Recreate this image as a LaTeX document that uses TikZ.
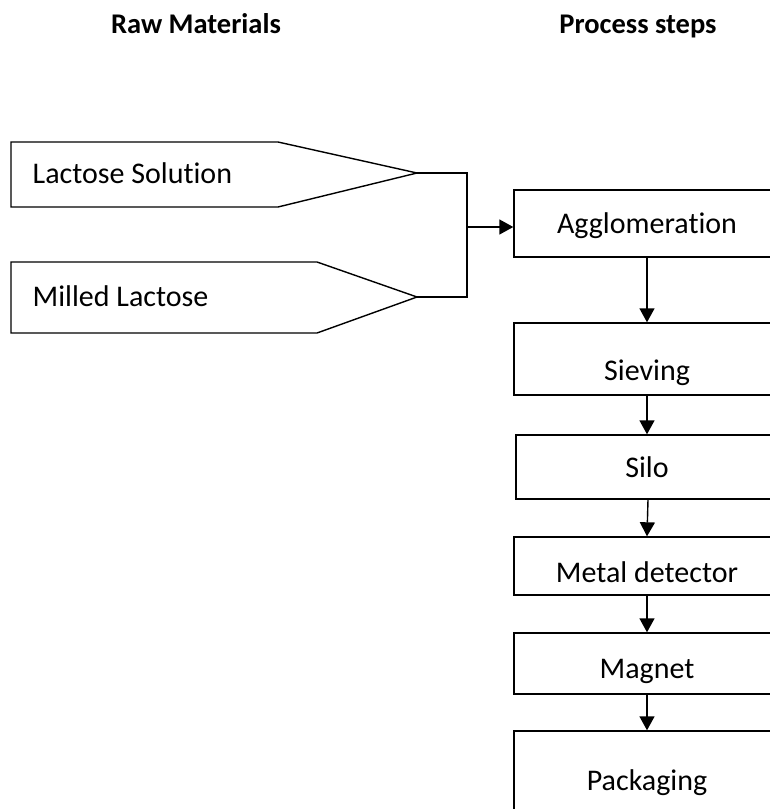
\documentclass[tikz,border=0pt]{standalone}
\usepackage{fontspec}
\setmainfont[Ligatures=NoCommon]{Carlito}
\usetikzlibrary{arrows.meta}
\begin{document}
\begin{tikzpicture}[x=1pt,y=-1pt,
  line width=1.4pt,
  title/.style={font=\fontsize{28.5}{30}\selectfont\bfseries, inner sep=0pt, anchor=base},
  txt/.style={font=\fontsize{30}{32}\selectfont, inner sep=0pt, anchor=base},
  stepbox/.style={draw, line width=1.4pt, minimum width=266pt, inner sep=0pt},
  arr/.style={-{Triangle[length=14pt,width=15pt]}, line width=1.4pt}]
\useasboundingbox (0,0) rectangle (770,809);
\clip (0,0) rectangle (770,809);
% titles
\node[title] (t1) at (196,33) {Raw Materials};
\node[title] (t2) at (638,33) {Process steps};
% raw material pentagons
\coordinate (tipA) at (417,173);
\coordinate (tipB) at (417,297);
\draw[line join=miter] (11,142) -- (278,142) -- (tipA) -- (278,207) -- (11,207) -- cycle;
\draw[line join=miter] (11,262) -- (317,262) -- (tipB) -- (317,333) -- (11,333) -- cycle;
\node[txt, anchor=base west] (lac) at (32,183) {Lactose Solution};
\node[txt, anchor=base west] (mil) at (32,306) {Milled Lactose};
% process boxes
\node[stepbox, minimum height=67pt] (agg) at (647,223.5) {};
\node[stepbox, minimum height=72pt] (sie) at (647,359) {};
\node[stepbox, minimum height=64pt, minimum width=262pt] (silo) at (647,467) {};
\node[stepbox, minimum height=58pt] (met) at (647,566) {};
\node[stepbox, minimum height=61pt] (mag) at (647,663.5) {};
\node[stepbox, minimum height=110pt] (pack) at (647,786) {};
\node[txt] (aggt) at (647,233) {Agglomeration};
\node[txt] (siet) at (647,380) {Sieving};
\node[txt] (silot) at (647,477) {Silo};
\node[txt] (mett) at (647,582) {Metal detector};
\node[txt] (magt) at (647,678) {Magnet};
\node[txt] (packt) at (647,790) {Packaging};
% connectors
\coordinate (j) at (467,227);
\draw[line join=miter] (tipA) -- (467,173) -- (467,297) -- (tipB);
\draw[arr] (j) -- (j -| agg.west);
\draw[arr] (agg.south) -- (sie.north);
\draw[arr] (sie.south) -- (silo.north);
\draw[arr] ([xshift=1pt]silo.south) -- (met.north);
\draw[arr] (met.south) -- (mag.north);
\draw[arr] (mag.south) -- (pack.north);
\end{tikzpicture}
\end{document}
